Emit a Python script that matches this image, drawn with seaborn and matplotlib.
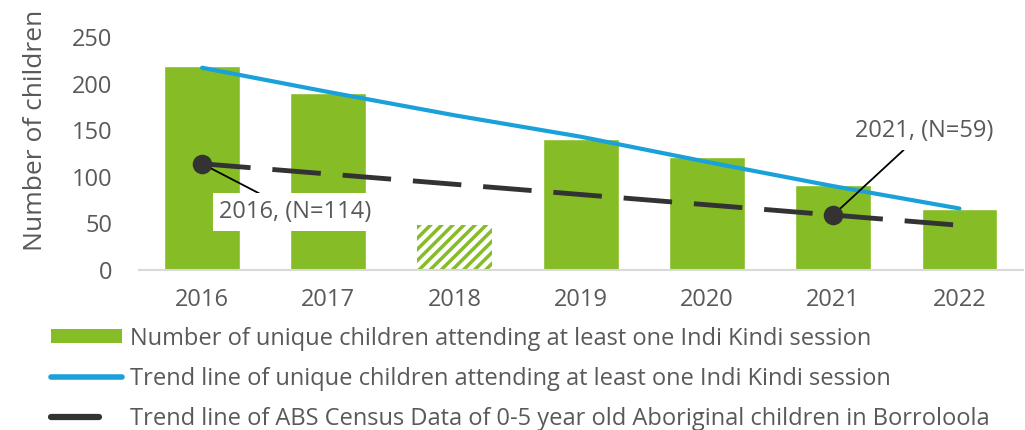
import pandas as pd
import seaborn as sns
import matplotlib.pyplot as plt
from matplotlib.patches import Patch
from matplotlib.lines import Line2D
from matplotlib.legend_handler import HandlerLine2D

years = ['2016', '2017', '2018', '2019', '2020', '2021', '2022']
children = [219, 190, 48, 141, 121, 91, 65]
trend_children = [217, 191, 166, 143, 116, 90, 66]
trend_census = [114, 103, 92, 81, 70, 59, 48]
census_points_years = ['2016', '2021']
census_points = [114, 59]

GREEN = '#86bc25'
BLUE = '#1ba1d9'
DARK = '#333333'
GREY = '#595959'


class ShortLine(HandlerLine2D):
    # legend key that shows a single dash, shorter than the other keys
    def create_artists(self, legend, orig_handle, xdescent, ydescent,
                       width, height, fontsize, trans):
        return super().create_artists(legend, orig_handle, xdescent, ydescent,
                                      width * 0.68, height, fontsize, trans)


sns.set_style('white')
plt.rcParams['font.family'] = ['Open Sans', 'DejaVu Sans']
plt.rcParams['hatch.color'] = GREEN
plt.rcParams['hatch.linewidth'] = 2.5

df = pd.DataFrame({'year': years, 'children': children,
                   'trend': trend_children, 'census': trend_census})

fig = plt.figure(figsize=(10.25, 4.3), dpi=100)
ax = fig.add_axes([0.1356, 0.372, 0.862, 0.542])

sns.barplot(data=df, x='year', y='children', color=GREEN, width=0.6,
            saturation=1, ax=ax)
# 2018 is a partial year -> hatched bar
bar18 = ax.patches[2]
bar18.set_facecolor('white')
bar18.set_edgecolor(GREEN)
bar18.set_hatch('///')
bar18.set_linewidth(0)

sns.lineplot(data=df, x='year', y='trend', color=BLUE, linewidth=3, ax=ax)
sns.lineplot(data=df, x='year', y='census', color=DARK, linewidth=3.5, ax=ax)
ax.lines[-1].set_dashes([10, 4.5])
sns.scatterplot(x=census_points_years, y=census_points, color=DARK, s=170,
                edgecolor=DARK, zorder=5, ax=ax)

box = dict(facecolor='white', edgecolor='none', pad=5)
ax.annotate('2016, (N=114)', xy=(0, 114), xytext=(0.74, 62),
            ha='center', va='center', fontsize=17, color=GREY, bbox=box,
            arrowprops=dict(arrowstyle='-', color='black', lw=1.3,
                            shrinkA=0, shrinkB=0))
ax.annotate('2021, (N=59)', xy=(5, 59), xytext=(5.72, 149),
            ha='center', va='center', fontsize=17, color=GREY, bbox=box,
            arrowprops=dict(arrowstyle='-', color='black', lw=1.3,
                            shrinkA=0, shrinkB=0))

ax.set_ylim(0, 250)
ax.set_xlim(-0.5, 6.5)
ax.set_yticks(range(0, 251, 50))
ax.set_xlabel('')
ax.set_ylabel('Number of children', fontsize=19, color=GREY)
ax.yaxis.set_label_coords(-0.103, 0.6)
ax.tick_params(axis='y', labelsize=17, colors=GREY, length=0, pad=19)
ax.tick_params(axis='x', labelsize=17, colors=GREY, length=0, pad=13)
sns.despine(ax=ax, left=True)
ax.spines['bottom'].set_color('#d9d9d9')
ax.spines['bottom'].set_linewidth(1.5)

census_key = Line2D([0], [0], color=DARK, linewidth=4.5,
                    solid_capstyle='round')
handles = [
    Patch(facecolor=GREEN, edgecolor='none'),
    Line2D([0], [0], color=BLUE, linewidth=4),
    census_key,
]
labels = [
    'Number of unique children attending at least one Indi Kindi session',
    'Trend line of unique children attending at least one Indi Kindi session',
    'Trend line of ABS Census Data of 0-5 year old Aboriginal children in Borroloola',
]
fig.legend(handles, labels, loc='upper left', bbox_to_anchor=(0.038, 0.268),
           frameon=False, fontsize=17, labelcolor=GREY, handlelength=3.0,
           handleheight=0.55, handletextpad=0.35, labelspacing=0.68,
           borderpad=0, handler_map={census_key: ShortLine()})

fig.savefig('out.png', dpi=100)
